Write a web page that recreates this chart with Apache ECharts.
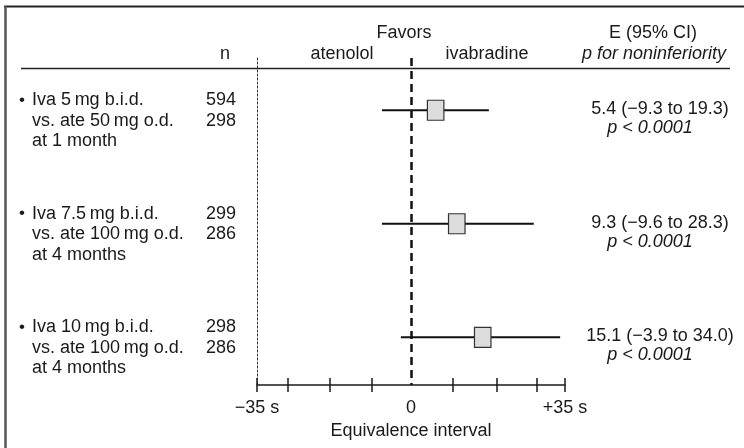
<!DOCTYPE html>
<html>
<head>
<meta charset="utf-8">
<script src="https://cdn.jsdelivr.net/npm/echarts@6.0.0/dist/echarts.min.js"></script>
<style>
  html, body { margin: 0; padding: 0; background: #fff; }
  #chart { width: 744px; height: 448px; }
</style>
</head>
<body>
<div id="chart"></div>
<script>
// rows, top to bottom
const rowLabels = [
  ['Iva 5\u2009mg b.i.d.', 'vs. ate 50\u2009mg o.d.', 'at 1 month'],
  ['Iva 7.5\u2009mg b.i.d.', 'vs. ate 100\u2009mg o.d.', 'at 4 months'],
  ['Iva 10\u2009mg b.i.d.', 'vs. ate 100\u2009mg o.d.', 'at 4 months']
]
const nIva = [594, 299, 298]
const nAte = [298, 286, 286]
// estimate and interval as drawn (s)
const estimate = [5.6, 10.4, 16.3]
const ciLow = [-6.6, -6.6, -2.3]
const ciHigh = [17.7, 27.9, 33.9]
// printed results
const estimateText = ['5.4 (\u22129.3 to 19.3)', '9.3 (\u22129.6 to 28.3)', '15.1 (\u22123.9 to 34.0)']
const pText = ['p < 0.0001', 'p < 0.0001', 'p < 0.0001']
// axis ticks and labels
const tickValues = [-35, -28, -18.5, -9, 9.5, 19.5, 28.5, 35]
const labelValues = [-35, 0, 35]
const labelTexts = ['\u221235 s', '0', '+35 s']

const FONT = '"Liberation Sans", Arial, Helvetica, sans-serif'
const INK = '#1a1a1a'
const FS = 18

const chart = echarts.init(document.getElementById('chart'))

const seriesData = estimate.map((v, i) => [i, ciLow[i], v, ciHigh[i]])

chart.setOption({
  animation: false,
  backgroundColor: '#fff',
  textStyle: { fontFamily: FONT, color: INK },
  grid: { left: 257, right: 179, top: 58, bottom: 63, outerBoundsMode: 'none', containLabel: false },
  xAxis: [
    {
      type: 'value',
      min: -35,
      max: 35,
      position: 'bottom',
      splitLine: { show: false },
      axisLine: { show: true, onZero: false, lineStyle: { color: INK, width: 1.5 } },
      axisTick: { show: true, length: 7, customValues: tickValues, lineStyle: { color: INK, width: 1.5 } },
      axisLabel: {
        show: true,
        customValues: labelValues,
        margin: 14,
        fontSize: FS,
        fontFamily: FONT,
        color: INK,
        formatter: v => labelTexts[labelValues.indexOf(v)]
      },
      name: 'Equivalence interval',
      nameLocation: 'middle',
      nameGap: 37,
      nameTextStyle: { fontSize: FS, fontFamily: FONT, color: INK }
    },
    {
      // inner half of the ticks
      type: 'value',
      min: -35,
      max: 35,
      position: 'bottom',
      splitLine: { show: false },
      axisLine: { show: false, onZero: false },
      axisLabel: { show: false },
      axisTick: { show: true, inside: true, length: 7, customValues: tickValues, lineStyle: { color: INK, width: 1.5 } }
    }
  ],
  yAxis: {
    type: 'value',
    min: -0.46,
    max: 2.42,
    inverse: true,
    splitLine: { show: false },
    axisTick: { show: false },
    axisLabel: { show: false },
    axisLine: { show: true, onZero: false, lineStyle: { color: '#333', width: 1, type: [2, 2] } }
  },
  series: [
    {
      type: 'custom',
      xAxisIndex: 0,
      data: seriesData,
      encode: { x: [1, 2, 3], y: 0 },
      renderItem: function (params, api) {
        const row = api.value(0)
        const lo = api.coord([api.value(1), row])
        const mid = api.coord([api.value(2), row])
        const hi = api.coord([api.value(3), row])
        return {
          type: 'group',
          children: [
            {
              type: 'line',
              shape: { x1: lo[0], y1: lo[1], x2: hi[0], y2: hi[1] },
              style: { stroke: '#111', lineWidth: 2 }
            },
            {
              type: 'rect',
              shape: { x: mid[0] - 8.25, y: mid[1] - 10, width: 16.5, height: 20 },
              style: { fill: '#dcdcdc', stroke: '#333', lineWidth: 1.2 }
            }
          ]
        }
      },
      markLine: {
        silent: true,
        symbol: 'none',
        label: { show: false },
        lineStyle: { color: '#111', width: 2.5, type: [8, 5] },
        data: [{ xAxis: 0 }]
      }
    }
  ]
})

// texts placed against the row positions
function txt(text, x, y, opts) {
  return {
    type: 'text',
    x: x,
    y: y,
    silent: true,
    style: Object.assign({
      text: text,
      font: FS + 'px ' + FONT,
      fill: INK,
      textAlign: 'left',
      textVerticalAlign: 'middle'
    }, opts || {})
  }
}

const elements = []
// frame
elements.push({ type: 'line', shape: { x1: 4, y1: 6.5, x2: 744, y2: 6.5 }, style: { stroke: '#222', lineWidth: 2 } })
elements.push({ type: 'line', shape: { x1: 5.5, y1: 6, x2: 5.5, y2: 448 }, style: { stroke: '#555', lineWidth: 2.5 } })
// header rule
elements.push({ type: 'line', shape: { x1: 21, y1: 68.5, x2: 730, y2: 68.5 }, style: { stroke: '#222', lineWidth: 1.5 } })
// headers
elements.push(txt('Favors', 404, 33, { textAlign: 'center' }))
elements.push(txt('E (95% CI)', 653, 33, { textAlign: 'center' }))
elements.push(txt('n', 225, 54, { textAlign: 'center' }))
elements.push(txt('atenolol', 342, 54, { textAlign: 'center' }))
elements.push(txt('ivabradine', 487, 54, { textAlign: 'center' }))
elements.push(txt('p for noninferiority', 654, 54, { textAlign: 'center', font: 'italic ' + FS + 'px ' + FONT }))

rowLabels.forEach((lines, i) => {
  const y = chart.convertToPixel({ yAxisIndex: 0 }, i)
  elements.push(txt('\u2022', 19, y - 10, { font: '17px ' + FONT }))
  lines.forEach((s, k) => {
    elements.push(txt(s, 32, y - 10 + k * 20.5))
  })
  elements.push(txt(String(nIva[i]), 236, y - 10, { textAlign: 'right' }))
  elements.push(txt(String(nAte[i]), 236, y + 10.5, { textAlign: 'right' }))
  elements.push(txt(estimateText[i], 660, y - 1, { textAlign: 'center' }))
  elements.push(txt(pText[i], 650, y + 18, { textAlign: 'center', font: 'italic ' + FS + 'px ' + FONT }))
})

chart.setOption({ graphic: { elements: elements } })
</script>
</body>
</html>
